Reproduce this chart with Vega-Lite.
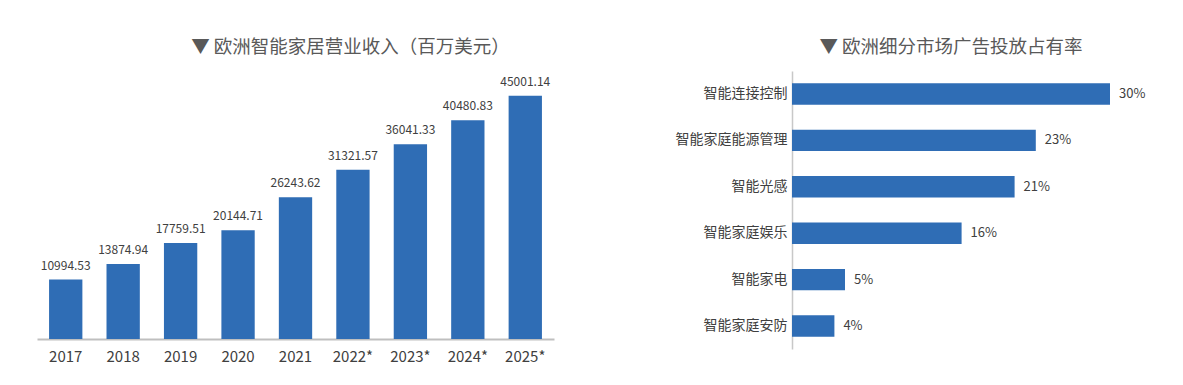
{
  "$schema": "https://vega.github.io/schema/vega-lite/v6.json",
  "padding": {"left": 37, "top": 37, "right": 5, "bottom": 5},
  "spacing": 118,
  "background": "#ffffff",
  "config": {
    "font": "Noto Sans CJK SC",
    "view": {"stroke": null},
    "title": {"fontSize": 18.5, "fontWeight": "normal", "color": "#595959", "font": "Noto Sans CJK SC", "offset": 15, "anchor": "middle", "frame": "group"}
  },
  "datasets": {
    "revenue": [
      {"year": "2017", "value": 10994.53},
      {"year": "2018", "value": 13874.94},
      {"year": "2019", "value": 17759.51},
      {"year": "2020", "value": 20144.71},
      {"year": "2021", "value": 26243.62},
      {"year": "2022*", "value": 31321.57},
      {"year": "2023*", "value": 36041.33},
      {"year": "2024*", "value": 40480.83},
      {"year": "2025*", "value": 45001.14}
    ],
    "share": [
      {"segment": "智能连接控制", "share": 0.30},
      {"segment": "智能家庭能源管理", "share": 0.23},
      {"segment": "智能光感", "share": 0.21},
      {"segment": "智能家庭娱乐", "share": 0.16},
      {"segment": "智能家电", "share": 0.05},
      {"segment": "智能家庭安防", "share": 0.04}
    ]
  },
  "hconcat": [
    {
      "title": {"text": "▼ 欧洲智能家居营业收入（百万美元）", "dx": 55},
      "width": 517,
      "height": 268,
      "data": {"name": "revenue"},
      "encoding": {
        "x": {
          "field": "year", "type": "nominal", "sort": null,
          "scale": {"paddingInner": 0.42, "paddingOuter": 0.21},
          "axis": {"title": null, "labelAngle": 0, "ticks": false, "labelPadding": 10, "labelFontSize": 15, "labelColor": "#404040", "domainColor": "#bfbfbf", "domainWidth": 2, "labelFont": "Noto Sans CJK SC"}
        },
        "y": {
          "field": "value", "type": "quantitative",
          "scale": {"domain": [0, 49600], "nice": false},
          "axis": null
        }
      },
      "layer": [
        {"mark": {"type": "bar", "color": "#2F6DB5"}},
        {
          "mark": {"type": "text", "baseline": "bottom", "dy": -7, "fontSize": 12, "color": "#404040"},
          "encoding": {"text": {"field": "value", "type": "quantitative", "format": ".2f"}}
        }
      ]
    },
    {
      "title": {"text": "▼ 欧洲细分市场广告投放占有率"},
      "width": 318,
      "height": 278,
      "data": {"name": "share"},
      "encoding": {
        "y": {
          "field": "segment", "type": "nominal", "sort": null,
          "scale": {"paddingInner": 0.54, "paddingOuter": 0.265},
          "axis": {"title": null, "ticks": false, "labelPadding": 5, "labelFontSize": 14, "labelColor": "#404040", "domainColor": "#c8c8c8", "domainWidth": 1.5, "minExtent": 120, "maxExtent": 120}
        },
        "x": {
          "field": "share", "type": "quantitative",
          "scale": {"domain": [0, 0.30], "nice": false},
          "axis": null
        }
      },
      "layer": [
        {"mark": {"type": "bar", "color": "#2F6DB5"}},
        {
          "mark": {"type": "text", "align": "left", "dx": 9, "fontSize": 13, "color": "#404040"},
          "encoding": {"text": {"field": "share", "type": "quantitative", "format": ".0%"}}
        }
      ]
    }
  ]
}
